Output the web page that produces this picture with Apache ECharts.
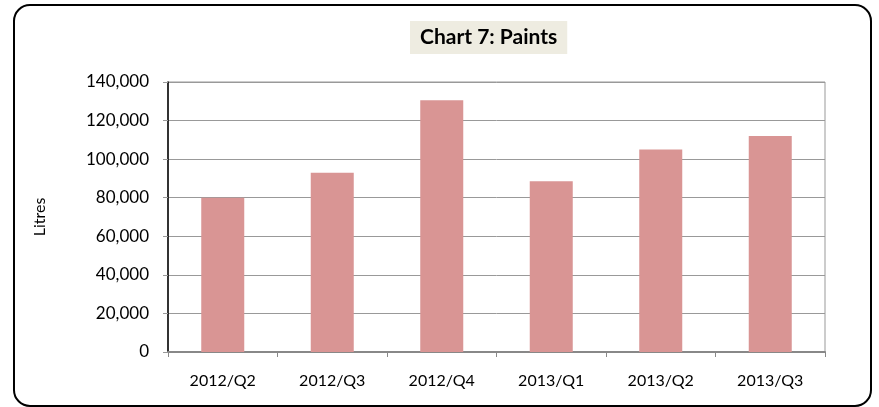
<!DOCTYPE html>
<html>
<head>
  <meta charset="utf-8">
  <title>Chart 7: Paints</title>
</head>
<body style="margin: 0">
  <div id="container" style="width: 879px; height: 407px;"></div>
  <script src="https://cdn.jsdelivr.net/npm/echarts@6.0.0/dist/echarts.min.js"></script>
  <script>
    var quarters = ['2012/Q2', '2012/Q3', '2012/Q4', '2013/Q1', '2013/Q2', '2013/Q3'];
    var litres = [80000, 93000, 130500, 88500, 105000, 112000];

    var fontFam = 'Lato, "Open Sans", sans-serif';
    var chart = echarts.init(document.getElementById('container'), null, { renderer: 'canvas' });

    var option = {
      backgroundColor: '#fff',
      animation: false,
      title: {
        text: 'Chart 7: Paints',
        left: 410,
        top: 21,
        backgroundColor: '#eeece1',
        padding: [6, 10, 6, 10],
        textStyle: { fontFamily: fontFam, fontSize: 21, fontWeight: 'bold', color: '#000' }
      },
      graphic: [
        {
          type: 'rect',
          shape: { x: 14, y: 5, width: 857, height: 401, r: 16 },
          style: { fill: 'none', stroke: '#000', lineWidth: 2 },
          silent: true
        }
      ],
      grid: { left: 168, right: 54, top: 82, bottom: 55, show: true, borderColor: '#999', borderWidth: 1 },
      xAxis: {
        type: 'category',
        data: quarters,
        axisLine: { lineStyle: { color: '#888', width: 2 } },
        axisTick: { show: true, length: 5, lineStyle: { color: '#888' } },
        axisLabel: { fontFamily: fontFam, fontSize: 16, color: '#000', margin: 21 }
      },
      yAxis: {
        type: 'value',
        min: 0,
        max: 140000,
        interval: 20000,
        name: 'Litres',
        nameLocation: 'middle',
        nameGap: 120,
        nameTextStyle: { fontFamily: fontFam, fontSize: 16, color: '#000' },
        axisLine: { show: true, lineStyle: { color: '#000', width: 1.5 } },
        axisTick: { show: true, length: 5, lineStyle: { color: '#999' } },
        axisLabel: {
          fontFamily: fontFam, fontSize: 17, color: '#000', margin: 19,
          formatter: function (v) { return v.toLocaleString('en-US'); }
        },
        splitLine: { lineStyle: { color: '#999', width: 1 } }
      },
      series: [
        {
          type: 'bar',
          data: litres,
          barWidth: 43,
          itemStyle: { color: '#d99594' }
        }
      ]
    };

    chart.setOption(option);
  </script>
</body>
</html>
